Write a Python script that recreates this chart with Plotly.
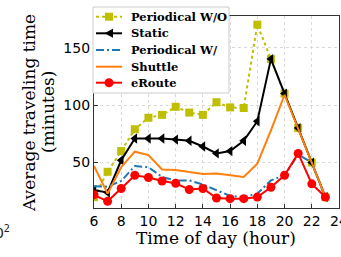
import plotly.graph_objects as go

hours = list(range(6, 24))
periodical_wo = [20, 42, 60, 79, 89, 91.5, 98.5, 93.5, 91.5, 102.5, 98, 97.5, 170, 140, 110, 80, 50, 20]
static = [26, 24, 52, 71, 71, 71, 70, 69, 64, 58, 60, 69, 86, 140, 110, 80, 50, 20]
periodical_w = [29.5, 29, 34, 47, 46, 37.5, 34.5, 34.5, 31, 26, 21, 20, 23, 34.5, 39, 57, 50, 20]
shuttle = [47, 23, 46, 59.5, 56.5, 44, 43.5, 42, 40, 40.5, 39, 37.5, 49, 78, 109, 80, 50, 20]
eroute = [22, 16.3, 27.5, 39, 37, 34, 32, 26.5, 27.5, 19.2, 18.6, 18.6, 20, 28.5, 39, 58, 31.5, 20]

series_names = ["Periodical W/O", "Static", "Periodical W/", "Shuttle", "eRoute"]
x_ticks = [6, 8, 10, 12, 14, 16, 18, 20, 22, 24]
y_ticks = [50, 100, 150]

OLIVE = "#bfbf00"
BLUE = "#1f77b4"
ORANGE = "#ff7f0e"
RED = "#ff0000"
DASHDOT = "8px,3px,2px,3px"

fig = go.Figure()
fig.add_trace(go.Scatter(x=hours, y=periodical_wo, name=series_names[0], mode="lines+markers",
                         line=dict(color=OLIVE, width=2, dash="dot"),
                         marker=dict(symbol="square", size=8, color=OLIVE)))
fig.add_trace(go.Scatter(x=hours, y=static, name=series_names[1], mode="lines+markers",
                         line=dict(color="black", width=2),
                         marker=dict(symbol="triangle-left", size=9, color="black")))
fig.add_trace(go.Scatter(x=hours, y=periodical_w, name=series_names[2], mode="lines",
                         line=dict(color=BLUE, width=2, dash=DASHDOT)))
fig.add_trace(go.Scatter(x=hours, y=shuttle, name=series_names[3], mode="lines",
                         line=dict(color=ORANGE, width=2)))
fig.add_trace(go.Scatter(x=hours, y=eroute, name=series_names[4], mode="lines+markers",
                         line=dict(color=RED, width=2),
                         marker=dict(symbol="circle", size=9, color=RED)))

L, R, T, B = 94, 339, 16, 208
W, H = R - L, B - T


def xp(px):
    return (px - L) / W


def yp(py):
    return (B - py) / H


shapes = []
annotations = []

# legend box
shapes.append(dict(type="rect", xref="paper", yref="paper", x0=xp(93), x1=xp(229), y0=yp(93), y1=yp(7),
                   fillcolor="white", line=dict(color="#cccccc", width=1), layer="above"))
rows = [16.7, 33.3, 50, 66.7, 82.7]
lx0, lx1, lxc = 96, 122, 109
styles = [(OLIVE, "dot"), ("black", "solid"), (BLUE, DASHDOT), (ORANGE, "solid"), (RED, "solid")]
for i, (c, d) in enumerate(styles):
    y = rows[i]
    shapes.append(dict(type="line", xref="paper", yref="paper", x0=xp(lx0), x1=xp(lx1), y0=yp(y), y1=yp(y),
                       line=dict(color=c, width=2, dash=d), layer="above"))
    annotations.append(dict(x=xp(129), y=yp(y), xref="paper", yref="paper", text="<b>%s</b>" % series_names[i],
                            showarrow=False, xanchor="left", yanchor="middle",
                            font=dict(family="DejaVu Serif", size=11.5, color="black")))
# legend markers
s = 4
shapes.append(dict(type="rect", xref="paper", yref="paper", x0=xp(lxc - s), x1=xp(lxc + s),
                   y0=yp(rows[0] + s), y1=yp(rows[0] - s), fillcolor=OLIVE, line=dict(width=0), layer="above"))
ty = rows[1]
shapes.append(dict(type="path", xref="paper", yref="paper",
                   path="M %f %f L %f %f L %f %f Z" % (xp(lxc - 4.5), yp(ty), xp(lxc + 4), yp(ty - 4.5), xp(lxc + 4), yp(ty + 4.5)),
                   fillcolor="black", line=dict(width=0), layer="above"))
shapes.append(dict(type="circle", xref="paper", yref="paper", x0=xp(lxc - 4.5), x1=xp(lxc + 4.5),
                   y0=yp(rows[4] + 4.5), y1=yp(rows[4] - 4.5), fillcolor=RED, line=dict(width=0), layer="above"))

# axis titles
annotations.append(dict(x=xp(216), y=yp(238), xref="paper", yref="paper", text="Time of day (hour)",
                        showarrow=False, xanchor="center", yanchor="middle",
                        font=dict(family="DejaVu Serif", size=17, color="black")))
annotations.append(dict(x=xp(29), y=yp(113), xref="paper", yref="paper", text="Average traveling time",
                        showarrow=False, xanchor="center", yanchor="middle", textangle=-90,
                        font=dict(family="DejaVu Serif", size=17, color="black")))
annotations.append(dict(x=xp(48), y=yp(112), xref="paper", yref="paper", text="(minutes)",
                        showarrow=False, xanchor="center", yanchor="middle", textangle=-90,
                        font=dict(family="DejaVu Serif", size=17, color="black")))
annotations.append(dict(x=xp(12), y=yp(232), xref="paper", yref="paper", text="10<sup>2</sup>",
                        showarrow=False, xanchor="right", yanchor="middle",
                        font=dict(family="DejaVu Sans", size=14, color="#222")))

axis_common = dict(showline=True, mirror=True, linecolor="#333", linewidth=1.3,
                   ticks="inside", ticklen=4, tickcolor="#333", tickwidth=1,
                   showgrid=True, gridcolor="#d9d9d9", gridwidth=1, griddash="dot",
                   zeroline=False, automargin=False, ticklabeloverflow="allow",
                   tickfont=dict(family="DejaVu Sans", size=14, color="black"))

fig.update_layout(
    width=341, height=257,
    margin=dict(l=L, r=341 - R, t=T, b=257 - B),
    paper_bgcolor="white", plot_bgcolor="white",
    showlegend=False, hovermode=False,
    xaxis=dict(range=[6, 24], tickvals=x_ticks, **axis_common),
    yaxis=dict(range=[10.5, 177.5], tickvals=y_ticks, **axis_common),
    shapes=shapes, annotations=annotations,
)

fig.write_html("out.html", config={"displayModeBar": False},
               post_script="document.body.style.margin='0';document.body.style.padding='0';")
